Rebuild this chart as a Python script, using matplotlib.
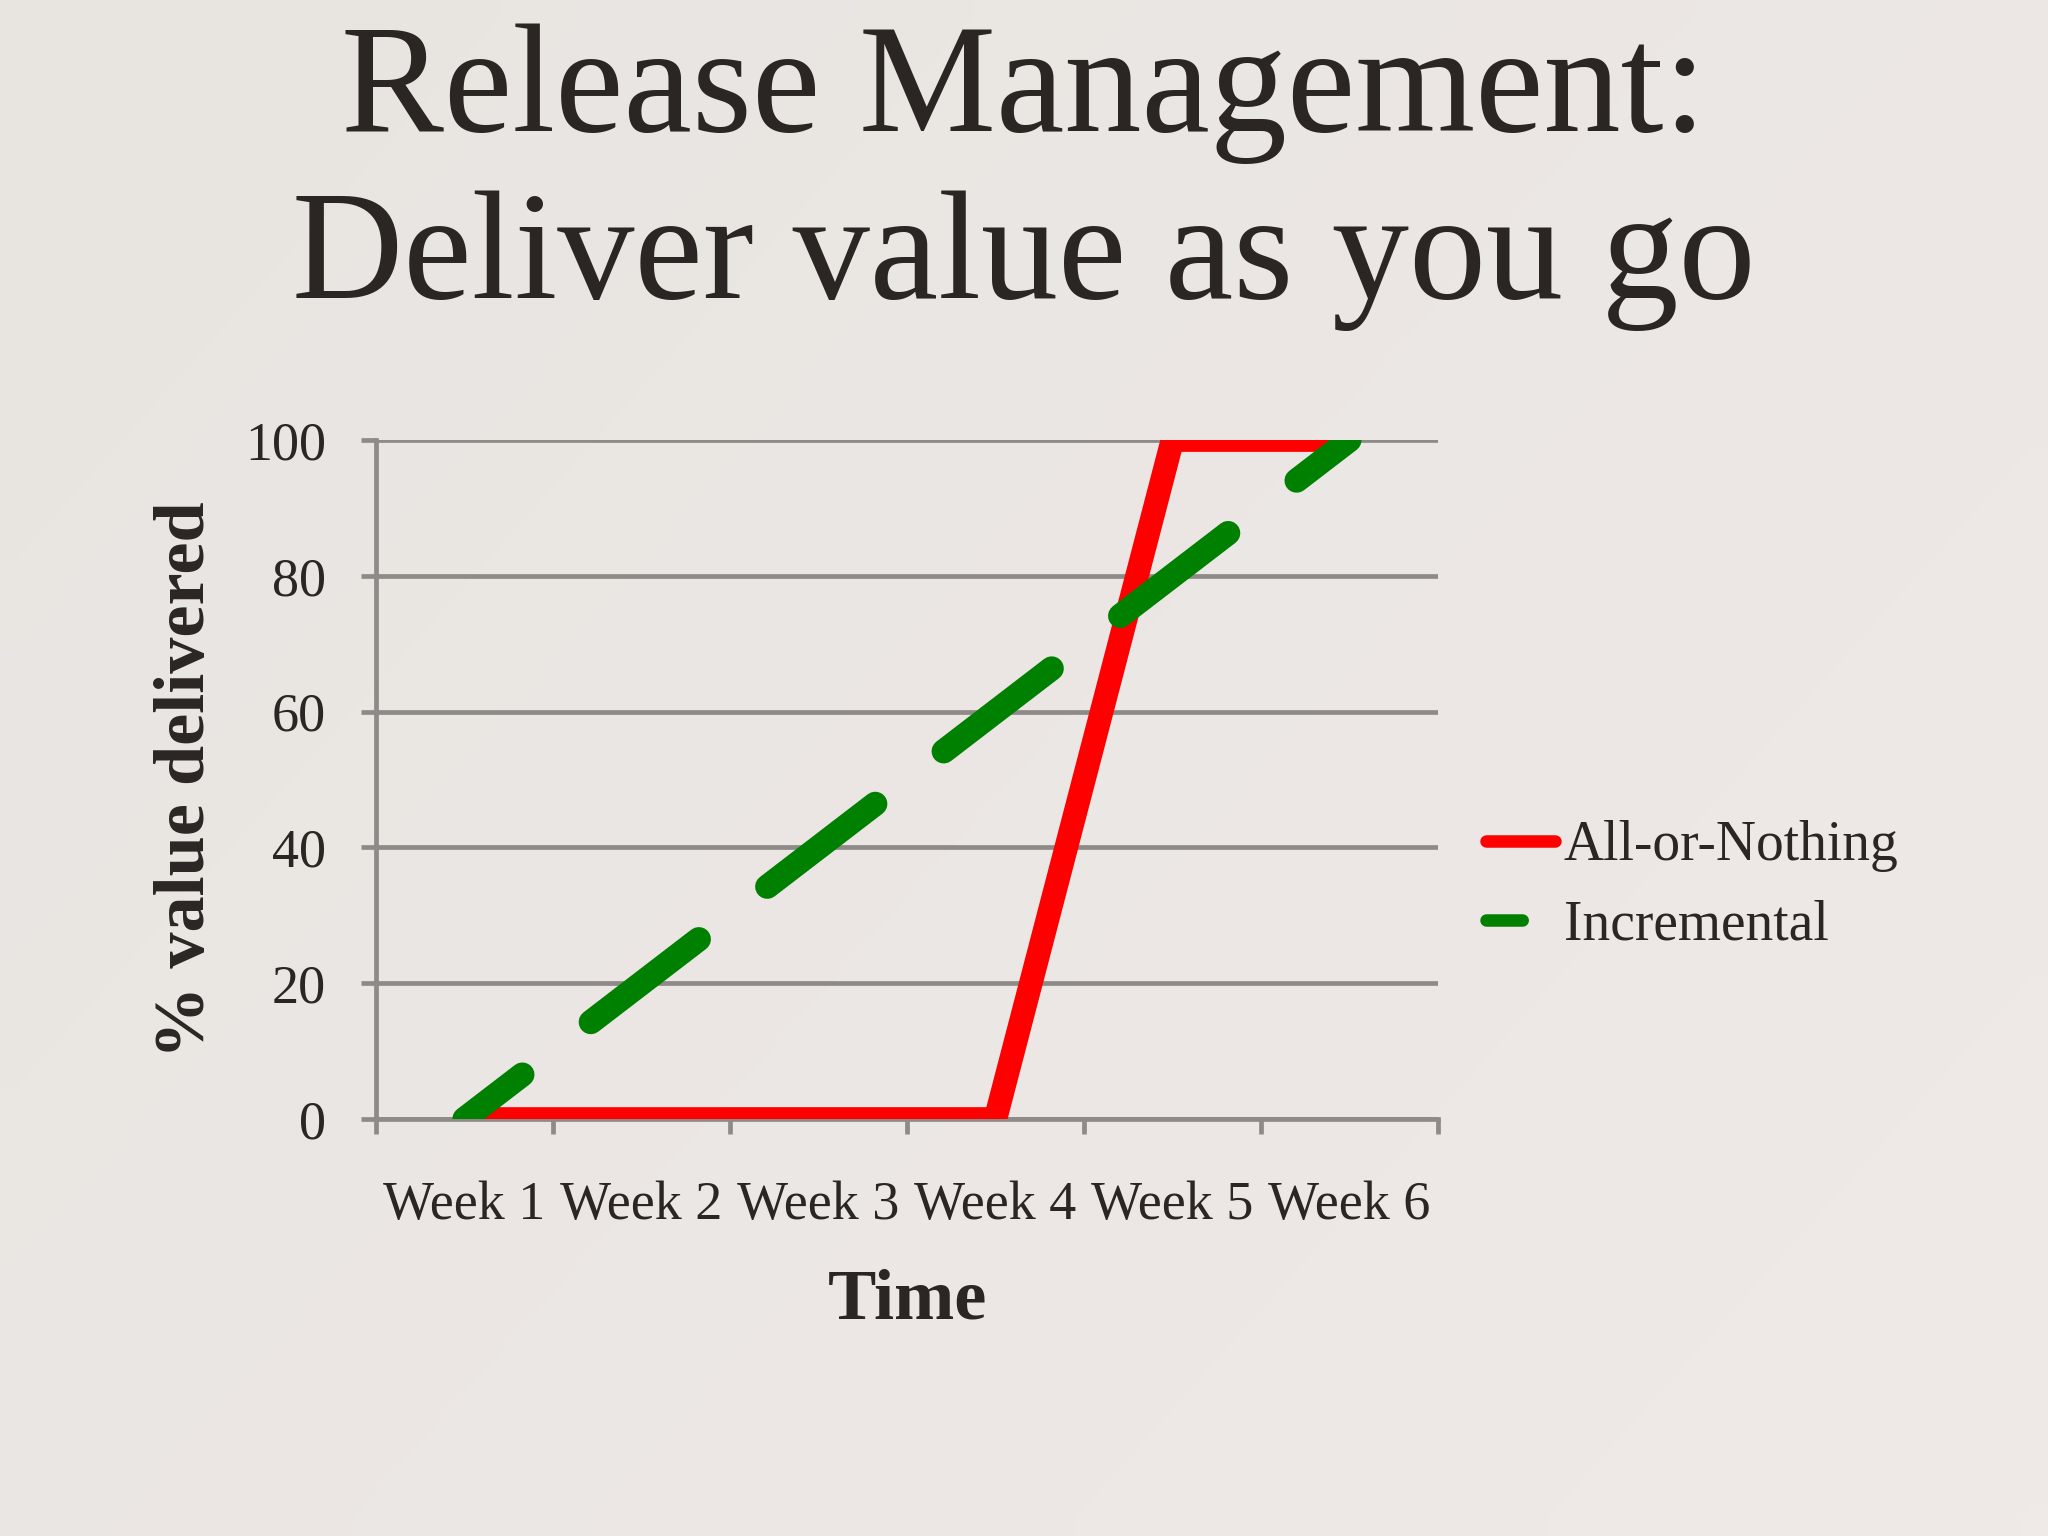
import numpy as np
import matplotlib.pyplot as plt
from matplotlib.lines import Line2D
from matplotlib.colors import LinearSegmentedColormap

# chart data
weeks = ['Week 1', 'Week 2', 'Week 3', 'Week 4', 'Week 5', 'Week 6']
all_or_nothing = [0, 0, 0, 0, 100, 100]
incremental = [0, 20, 40, 60, 80, 100]
series_names = ['All-or-Nothing', 'Incremental']
y_ticks = [0, 20, 40, 60, 80, 100]

plt.rcParams['font.family'] = ['Liberation Serif', 'DejaVu Serif']

bg = '#ece8e4'
txt = '#2b2623'
grid = '#8e8a87'
red = '#ff0000'
green = '#008000'

fig = plt.figure(figsize=(20.48, 15.36), dpi=100)
fig.patch.set_facecolor(bg)

# soft paper-like background, greyer top-left, pinker bottom-right
bgax = fig.add_axes([0, 0, 1, 1], zorder=-10)
bgax.axis('off')
cmap = LinearSegmentedColormap.from_list('paper', ['#e8e5e1', '#efe9e7'])
gx, gy = np.meshgrid(np.linspace(0, 1, 64), np.linspace(0, 1, 48))
bgax.imshow(0.6 * gx + 0.4 * gy, cmap=cmap, aspect='auto',
            extent=[0, 1, 1, 0], interpolation='bilinear')

# title, two lines
fig.text(0.5, 0.9147, 'Release Management:', ha='center', va='baseline',
         fontsize=111, color=txt)
fig.text(0.5, 0.806, 'Deliver value as you go', ha='center', va='baseline',
         fontsize=111, color=txt)

ax = fig.add_axes([0.1836, 0.2715, 0.5185, 0.442])
ax.set_facecolor('none')

x = np.arange(len(weeks))
ax.plot(x, all_or_nothing, color=red, lw=17, solid_joinstyle='miter',
        solid_capstyle='butt', zorder=3)
ax.plot(x, incremental, color=green, lw=17.5, dash_capstyle='round',
        linestyle=(2.6, (5.6, 3.55)), zorder=4)

ax.set_xlim(-0.5, len(weeks) - 0.5)
ax.set_ylim(0, 100)

# gridlines and axes
ax.set_yticks(y_ticks)
ax.yaxis.grid(True, color=grid, lw=3.4)
ax.set_axisbelow(True)
for s in ['top', 'right']:
    ax.spines[s].set_visible(False)
for s in ['left', 'bottom']:
    ax.spines[s].set_color(grid)
    ax.spines[s].set_linewidth(3.4)

# category boundaries get the tick marks, centres get the labels
ax.set_xticks(np.arange(-0.5, len(weeks), 1))
ax.set_xticks(x, minor=True)
ax.set_xticklabels(weeks, minor=True)
ax.tick_params(axis='x', which='major', length=11, width=3.4, color=grid,
               labelbottom=False)
ax.tick_params(axis='x', which='minor', length=0, pad=44, labelsize=39,
               labelcolor=txt)
ax.tick_params(axis='y', length=11, width=3.4, color=grid, pad=25,
               labelsize=39, labelcolor=txt)

fig.text(0.4429, 0.1413, 'Time', ha='center', va='baseline', fontsize=52,
         fontweight='bold', color=txt)
fig.text(0.0913, 0.4925, '% value delivered', ha='center', va='center',
         rotation=90, fontsize=52, fontweight='bold', color=txt)

handles = [
    Line2D([], [], color=red, lw=9, solid_capstyle='round'),
    Line2D([], [], color=green, lw=9, dash_capstyle='round',
           linestyle=(0, (2.9, 10))),
]
ax.legend(handles, series_names, loc='center left',
          bbox_to_anchor=(0.7256, 0.4232), bbox_transform=fig.transFigure,
          frameon=False, borderpad=0, borderaxespad=0, fontsize=40,
          handlelength=1.25, handletextpad=0.15, labelspacing=0.49,
          labelcolor=txt)

fig.savefig('out.png', dpi=100, facecolor=bg)
